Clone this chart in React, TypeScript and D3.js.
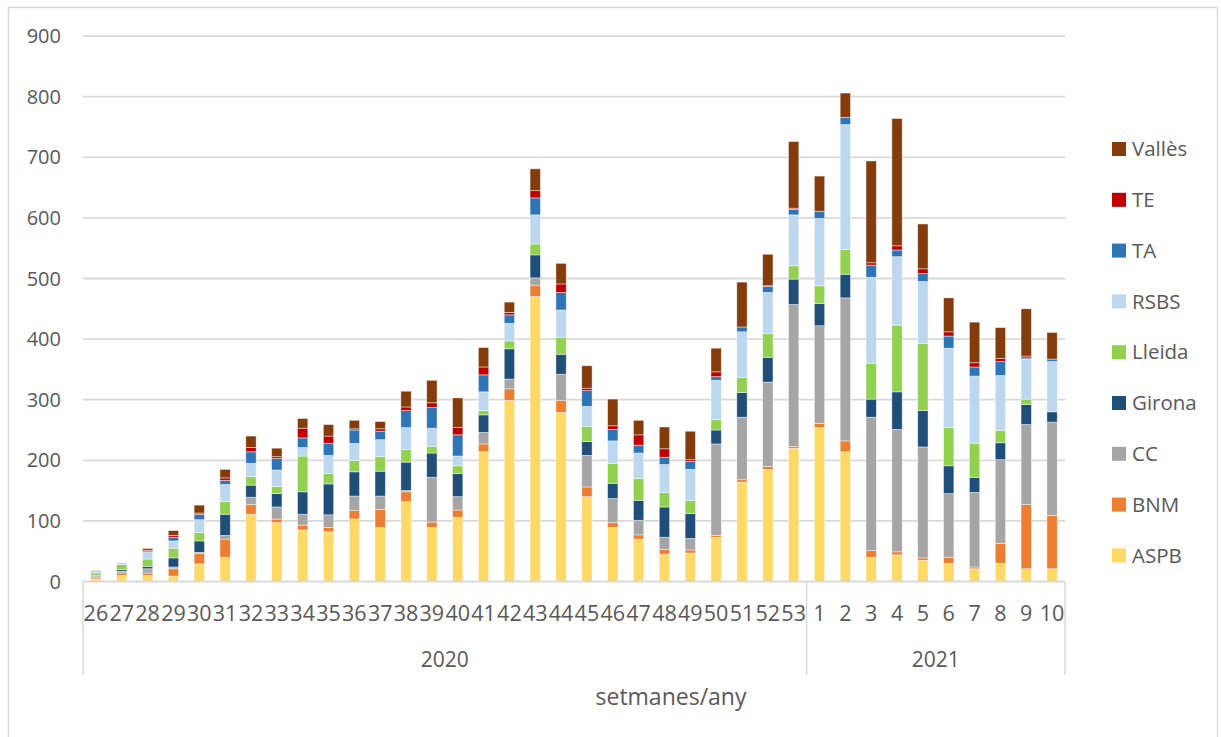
import React from 'react';
import * as d3 from 'd3';

const weeks = ['26','27','28','29','30','31','32','33','34','35','36','37','38','39','40','41','42','43','44','45','46','47','48','49','50','51','52','53','1','2','3','4','5','6','7','8','9','10'];
const years = ['2020', '2021'];
const yearCounts = [28, 10];
const seriesNames = ['ASPB', 'BNM', 'CC', 'Girona', 'Lleida', 'RSBS', 'TA', 'TE', 'Vallès'];
const seriesColors = ['#FFD966', '#ED7D31', '#A5A5A5', '#1F4E79', '#92D050', '#BDD7EE', '#2E75B6', '#C00000', '#843C0C'];
const yTicks = [0, 100, 200, 300, 400, 500, 600, 700, 800, 900];
const xTitle = 'setmanes/any';

const ASPB = [4,10,10,9,29,40,111,97,85,82,103,89,132,89,106,214,299,470,279,140,89,70,45,47,73,164,185,220,254,214,40,44,35,30,21,30,21,21];
const BNM = [2,4,4,12,17,30,16,6,8,7,14,30,16,9,12,13,19,19,20,16,8,7,8,5,3,4,5,3,7,18,11,5,4,10,3,33,106,88];
const CC = [3,3,7,3,2,6,12,20,18,21,24,22,2,74,22,19,16,12,43,52,40,24,20,19,151,103,139,234,161,236,220,202,183,105,123,138,132,154];
const Girona = [1,3,4,15,19,35,20,22,37,51,40,41,47,40,38,29,50,38,33,23,25,33,50,41,23,41,41,42,37,39,30,62,60,46,25,28,33,17];
const Lleida = [4,8,12,16,14,21,14,12,59,17,19,24,21,11,13,7,13,18,28,25,33,36,24,22,17,25,39,22,29,41,59,110,111,63,56,20,9,0];
const RSBS = [3,3,12,12,21,28,22,27,14,30,28,28,36,30,16,31,29,48,45,33,37,42,46,51,65,75,68,84,111,206,142,113,102,131,111,91,66,83];
const TA = [0,0,2,6,9,7,19,19,16,20,22,14,28,34,35,28,14,28,29,26,19,13,12,13,6,8,10,9,12,12,20,11,13,20,15,23,2,4];
const TE = [0,0,3,3,2,4,7,3,16,12,2,4,6,8,12,13,4,12,14,4,6,17,14,3,8,0,1,2,0,0,4,7,8,7,7,5,3,0];
const Valles = [1,0,1,8,13,14,19,14,16,19,14,12,26,37,49,32,17,36,34,37,44,24,36,47,39,74,52,110,58,40,168,210,74,56,67,51,78,44];

const seriesValues = [ASPB, BNM, CC, Girona, Lleida, RSBS, TA, TE, Valles];

const W = 1221;
const H = 737;
const FONT = "'Open Sans', 'Noto Sans', sans-serif";
const TXT = '#595959';
const GRID = '#d9d9d9';

export default function App() {
  const rows = weeks.map((w, i) => {
    const r: Record<string, number> = { idx: i };
    seriesNames.forEach((s, k) => { r[s] = seriesValues[k][i]; });
    return r;
  });
  const stacked = d3.stack<Record<string, number>>().keys(seriesNames)(rows);

  const plotLeft = 83;
  const plotRight = 1065;
  const y = d3.scaleLinear().domain([0, 900]).range([581.5, 36.1]);
  const slot = d3.scaleBand<number>().domain(d3.range(weeks.length)).range([plotLeft, plotRight]);
  const bw = slot.bandwidth();
  const barW = bw * 0.4;
  const barX = (i: number) => (slot(i) as number) + bw * 0.3;

  const yearBounds: number[] = [];
  let acc = 0;
  yearBounds.push(plotLeft);
  yearCounts.forEach((c) => { acc += c; yearBounds.push(acc < weeks.length ? (slot(acc) as number) : plotRight); });

  const axisBottom = 675;

  return (
    <svg width={W} height={H} style={{ position: 'absolute', left: 0, top: 0, background: '#fff' }} fontFamily={FONT}>
      <rect x={0} y={0} width={W} height={H} fill="#fff" />
      <rect x={8.5} y={7.5} width={1209} height={740} fill="#fff" stroke={GRID} strokeWidth={1.5} />

      {yTicks.map((t) => (
        <g key={t}>
          {t > 0 && <line x1={plotLeft} x2={plotRight} y1={y(t)} y2={y(t)} stroke={GRID} strokeWidth={1.8} />}
          <text x={61} y={y(t)} dy="0.35em" textAnchor="end" fontSize={20} fill={TXT}>{t}</text>
        </g>
      ))}

      {stacked.map((layer, k) => (
        <g key={layer.key} fill={seriesColors[k]}>
          {layer.map((d, i) => {
            const h = y(d[0]) - y(d[1]);
            if (h <= 0) return null;
            return (
              <rect key={i} x={barX(i)} y={y(d[1])} width={barW} height={h}
                stroke="#ffffff" strokeOpacity={0.55} strokeWidth={0.8} />
            );
          })}
        </g>
      ))}

      <line x1={plotLeft} x2={plotRight} y1={y(0)} y2={y(0)} stroke={GRID} strokeWidth={1.8} />
      {yearBounds.map((b, i) => (
        <line key={i} x1={b} x2={b} y1={y(0)} y2={axisBottom} stroke={GRID} strokeWidth={1.5} />
      ))}

      {weeks.map((w, i) => (
        <text key={i} x={(slot(i) as number) + bw / 2} y={613} dy="0.35em" textAnchor="middle" fontSize={21.5} fill={TXT}>{w}</text>
      ))}

      {years.map((yr, i) => (
        <text key={yr} x={(yearBounds[i] + yearBounds[i + 1]) / 2} y={660} dy="0.35em" textAnchor="middle" fontSize={21} fill={TXT}>{yr}</text>
      ))}

      <text x={671} y={697} dy="0.35em" textAnchor="middle" fontSize={23} fill={TXT}>{xTitle}</text>

      {seriesNames.slice().reverse().map((s, j) => {
        const k = seriesNames.length - 1 - j;
        const cy = 149 + j * 50.8;
        return (
          <g key={s}>
            <rect x={1112} y={cy - 7} width={14} height={14} fill={seriesColors[k]} />
            <text x={1132} y={cy} dy="0.35em" fontSize={20.5} fill={TXT}>{s}</text>
          </g>
        );
      })}
    </svg>
  );
}
